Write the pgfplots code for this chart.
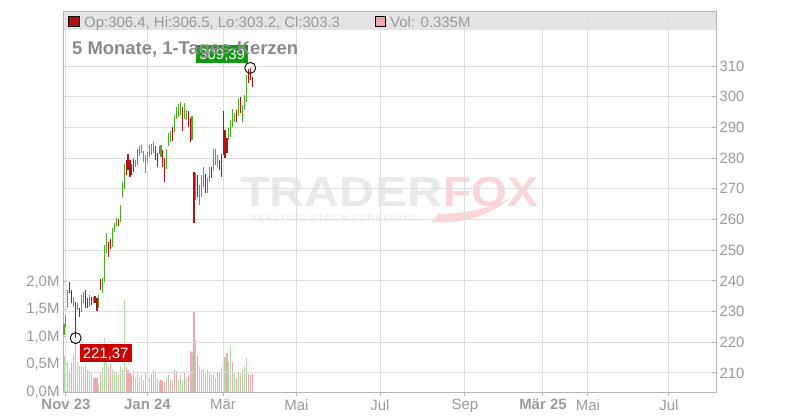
\documentclass[border=0pt]{standalone}
\usepackage{fontspec}
\setmainfont{Liberation Sans}
\usepackage{pgfplots}
\pgfplotsset{compat=1.18}
\usepackage{pgfplotstable}

\definecolor{gridc}{HTML}{DDDDDD}
\definecolor{axisc}{HTML}{B4B4B4}
\definecolor{txt}{HTML}{9A9A9A}
\definecolor{titc}{HTML}{8A8A8A}
\definecolor{cg}{HTML}{4AAE24}
\definecolor{cr}{HTML}{B31212}
\definecolor{vg}{HTML}{A9DBA1}
\definecolor{vr}{HTML}{F0A6AE}
\definecolor{band}{HTML}{E4E4E4}
\definecolor{lblg}{HTML}{0F9A0F}
\definecolor{lblr}{HTML}{CC0000}
\definecolor{wmg}{HTML}{E9E9E9}
\definecolor{wmp}{HTML}{FBD6D9}
\definecolor{hdrr}{HTML}{B01010}
\definecolor{hdrp}{HTML}{F0A8B0}

\pgfplotstableread{
x lo hi
1 222.4 226.0
2 225.0 228.9
3 231.2 237.0
6 231.5 234.8
8 230.5 232.8
10 229.9 235.4
11 232.8 236.4
14 231.5 235.4
16 232.8 234.8
19 231.2 235.4
21 236.1 240.9
22 239.6 251.7
23 249.1 255.6
26 251.0 257.2
27 255.9 258.9
28 257.6 260.5
30 259.2 264.7
31 267.0 272.2
32 269.9 278.1
38 277.1 279.4
39 277.8 283.0
40 280.7 283.9
41 281.7 284.3
42 278.7 282.3
43 275.1 281.0
44 278.7 282.0
45 280.4 284.3
46 281.0 284.6
47 281.7 285.2
50 281.3 283.9
51 280.4 284.3
54 276.4 283.0
55 283.9 288.2
56 285.2 288.8
58 288.5 294.0
59 292.7 296.6
60 293.4 297.6
61 294.0 298.3
63 292.7 298.0
64 292.4 295.7
67 285.9 293.7
69 266.4 275.1
71 264.7 271.2
72 267.3 274.5
73 270.6 277.1
75 268.6 273.5
76 272.2 277.1
78 276.1 283.0
79 277.8 283.0
80 277.1 281.0
86 285.9 289.8
87 286.9 292.4
88 290.1 296.0
89 291.8 294.7
91 293.7 299.6
93 291.8 297.3
94 295.7 300.6
95 298.3 307.1
}\greenC

\pgfplotstableread{
x lo hi
4 236.1 239.6
5 232.8 237.0
7 221.37 233.1
9 228.2 231.2
12 231.2 237.0
13 231.2 234.4
15 232.1 234.8
17 232.8 235.1
18 230.2 234.4
20 237.0 240.6
24 247.8 252.7
25 250.4 253.6
29 257.9 260.2
33 274.5 279.4
34 276.1 281.3
35 273.8 279.4
36 274.5 278.1
37 275.5 279.7
48 279.4 283.9
49 277.1 281.7
52 277.1 282.6
53 272.2 280.0
57 285.6 290.1
62 288.8 296.6
65 290.1 295.3
66 285.2 293.1
68 258.9 275.5
70 267.3 274.5
74 268.6 274.8
77 273.5 277.1
81 276.1 279.4
82 273.8 281.3
83 281.0 295.3
84 280.0 289.2
85 281.7 286.5
90 291.8 295.7
92 294.7 299.9
96 304.5 309.0
97 305.4 309.39
98 303.2 306.5
}\redC

\pgfplotstableread{
x v
1 0.65
2 0.47
3 0.55
6 0.67
8 0.55
10 0.47
11 0.45
14 0.38
15 0.33
16 0.25
19 0.12
21 0.45
22 0.98
23 0.55
26 0.42
27 0.38
28 0.35
30 0.48
31 0.40
32 1.67
37 0.40
38 0.25
39 0.35
40 0.28
41 0.30
42 0.22
43 0.35
44 0.30
45 0.25
49 0.25
50 0.20
54 0.25
57 0.22
60 0.20
61 0.30
62 0.22
64 0.25
67 0.72
69 0.94
71 0.45
72 0.40
73 0.42
74 0.35
75 0.40
77 0.30
78 0.32
79 0.25
82 0.45
83 1.06
84 0.63
86 0.55
87 0.85
89 0.35
91 0.35
92 0.35
94 0.45
95 0.62
}\volG

\pgfplotstableread{
x v
4 0.38
5 0.52
7 0.88
9 0.48
12 0.47
13 0.40
17 0.25
18 0.25
20 0.35
24 0.45
25 0.50
29 0.30
33 0.45
34 0.40
35 0.35
36 0.30
46 0.32
47 0.40
48 0.35
51 0.22
52 0.20
53 0.18
55 0.30
56 0.20
58 0.40
59 0.38
63 0.35
65 0.30
66 0.75
68 1.46
70 0.66
76 0.35
80 0.35
81 0.35
85 0.70
88 0.55
90 0.25
93 0.40
96 0.32
97 0.30
98 0.335
}\volR

\begin{document}
\begin{tikzpicture}
\useasboundingbox (0bp,0bp) rectangle (800bp,420bp);
% header band
\fill[band] (63bp,390bp) rectangle (716bp,408bp);
% watermark
\node[anchor=base west, inner sep=0pt, text=wmg, font=\fontsize{42}{42}\selectfont\bfseries, xscale=1.16] at (240bp,213bp) {TRADER};
\node[anchor=base west, inner sep=0pt, text=wmp, font=\fontsize{42}{42}\selectfont\bfseries, xscale=1.10] at (443bp,213bp) {FOX};
\fill[wmp] (432bp,198bp) .. controls (455bp,196bp) and (490bp,202bp) .. (510bp,222bp)
  .. controls (488bp,210bp) and (460bp,206bp) .. (438bp,206bp) -- cycle;
\node[anchor=base west, inner sep=0pt, text=wmg, font=\fontsize{9.5}{9.5}\selectfont\addfontfeature{LetterSpace=14}] at (250bp,198bp) {REALTIME STOCK SCREENING};

% volume axis
\begin{axis}[
  at={(63bp,28bp)}, anchor=south west,
  scale only axis, width=653bp, height=380bp,
  xmin=0.485, xmax=337.1, ymin=0, ymax=6.909,
  axis line style={draw=none},
  xtick=\empty,
  ytick={0,0.5,1,1.5,2},
  yticklabels={{0,0M},{0,5M},{1,0M},{1,5M},{2,0M}},
  ytick pos=left, ytick align=inside,
  major tick length=4bp,
  tick style={draw=axisc, line width=1bp},
  yticklabel style={font=\fontsize{15}{15}\selectfont, text=txt},
]
\addplot[ycomb, draw=vg, line width=1.1bp, mark=none] table[x=x, y=v] \volG;
\addplot[ycomb, draw=vr, line width=1.1bp, mark=none] table[x=x, y=v] \volR;
\end{axis}

% price axis
\begin{axis}[
  at={(63bp,28bp)}, anchor=south west,
  scale only axis, width=653bp, height=380bp,
  xmin=0.485, xmax=337.1, ymin=203.8, ymax=327.6,
  axis line style={draw=axisc, line width=1bp},
  xtick={2.03,44.0,83.0,120.8,163.9,207.7,247.9,271.1,312.8},
  xticklabels={\textbf{Nov 23},\textbf{Jan 24},Mär,Mai,Jul,Sep,\textbf{Mär 25},Mai,Jul},
  ytick={210,220,...,310},
  xtick pos=bottom, ytick pos=right, yticklabel pos=right,
  xtick align=outside, ytick align=inside,
  major tick length=4bp,
  tick style={draw=axisc, line width=1bp},
  grid=major, major grid style={draw=gridc, line width=1bp},
  ticklabel style={font=\fontsize{15}{15}\selectfont, text=txt},
  /pgf/number format/assume math mode=true,
  clip=false,
]
\addplot[draw=none, mark=none, error bars/.cd, y dir=plus, y explicit, error mark=none,
  error bar style={draw=cg, line width=1.1bp}]
  table[x=x, y=lo, y error expr=\thisrow{hi}-\thisrow{lo}] \greenC;
\addplot[draw=none, mark=none, error bars/.cd, y dir=plus, y explicit, error mark=none,
  error bar style={draw=cr, line width=1.1bp}]
  table[x=x, y=lo, y error expr=\thisrow{hi}-\thisrow{lo}] \redC;
\addplot[only marks, mark=o, mark size=5.5bp, mark options={draw=black, line width=0.9bp}]
  coordinates {(7,221.37) (97,309.39)};
\node[fill=lblg, text=white, font=\fontsize{15}{15}\selectfont, inner xsep=3bp, inner ysep=3.5bp,
  text height=10.7bp, text depth=0pt, anchor=south east, xshift=-2bp, yshift=5bp]
  at (axis cs:97,309.39) {309,39};
\node[fill=lblr, text=white, font=\fontsize{15}{15}\selectfont, inner xsep=3bp, inner ysep=3.5bp,
  text height=10.7bp, text depth=0pt, anchor=north west, xshift=4bp, yshift=-6bp]
  at (axis cs:7,221.37) {221,37};
\end{axis}

% header
\filldraw[fill=hdrr, draw=black, line width=0.8bp] (68.5bp,393.5bp) rectangle (79bp,404bp);
\node[anchor=base west, inner sep=0pt, text=txt, font=\fontsize{15}{15}\selectfont] at (84bp,392.6bp) {Op:306.4, Hi:306.5, Lo:303.2, Cl:303.3};
\filldraw[fill=hdrp, draw=black, line width=0.8bp] (375bp,393.5bp) rectangle (385.5bp,404bp);
\node[anchor=base west, inner sep=0pt, text=txt, font=\fontsize{15}{15}\selectfont] at (390bp,392.6bp) {Vol: 0.335M};
% title
\node[anchor=base west, inner sep=0pt, text=titc, font=\fontsize{18.5}{18.5}\selectfont\bfseries] at (72bp,365.5bp) {5 Monate, 1-Tages-Kerzen};
\end{tikzpicture}
\end{document}
